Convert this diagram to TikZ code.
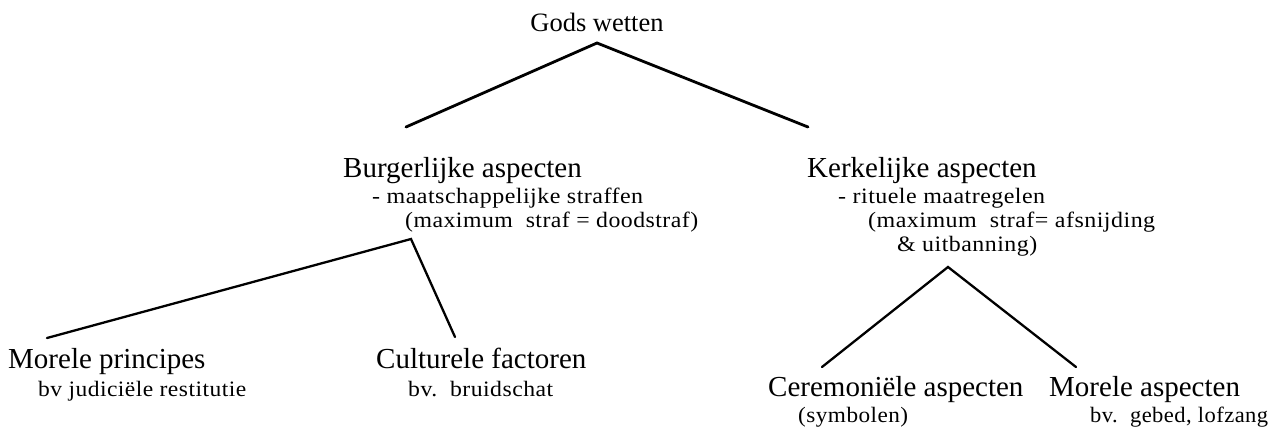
\documentclass[tikz,border=0pt]{standalone}
\usepackage{fontspec}
\usepackage{graphicx}
\setmainfont{Liberation Serif}
\newfontfamily\spacedfont[LetterSpace=2]{Liberation Serif}
\newcommand{\fitw}[2]{\resizebox{#1pt}{\height}{#2}}
\begin{document}
\begin{tikzpicture}[x=1pt,y=-1pt,
  big/.style={anchor=base west,inner sep=0pt,font=\fontsize{29}{34}\selectfont},
  small/.style={anchor=base west,inner sep=0pt,font=\spacedfont\fontsize{22}{26}\selectfont},
  branch/.style={line width=2.8pt,line cap=round},
  twig/.style={line width=2.3pt,line cap=round}]
\useasboundingbox (0,0) rectangle (1278,432);
% texts
\node[big,anchor=base,font=\fontsize{26.5}{32}\selectfont] (gw) at (597,31) {Gods wetten};
\node[big] (ba) at (343,177) {Burgerlijke aspecten};
\node[small] (ba1) at (372,203) {\fitw{271}{- maatschappelijke straffen}};
\node[small] (ba2) at (405,227) {\fitw{293}{(maximum\ \ straf = doodstraf)}};
\node[big] (ka) at (807,177) {Kerkelijke aspecten};
\node[small] (ka1) at (838,203) {\fitw{207}{- rituele maatregelen}};
\node[small] (ka2) at (868,227) {\fitw{287}{(maximum\ \ straf= afsnijding}};
\node[small] (ka3) at (897,251) {\fitw{140}{\& uitbanning)}};
\node[big] (mp) at (8,368) {Morele principes};
\node[small] (mp1) at (38,396) {\fitw{208}{bv judiciële restitutie}};
\node[big] (cf) at (376,368) {Culturele factoren};
\node[small] (cf1) at (408,396) {\fitw{145}{bv.\ \ bruidschat}};
\node[big] (ca) at (768,396) {Ceremoniële aspecten};
\node[small] (ca1) at (798,422) {\fitw{110}{(symbolen)}};
\node[big] (ma) at (1049,396) {Morele aspecten};
\node[small] (ma1) at (1090,422) {\fitw{178}{bv.\ \ gebed, lofzang}};
% connector points
\coordinate (gtop) at (597,43);
\coordinate (gl) at (406,127);
\coordinate (gr) at (808,127);
\coordinate (btop) at (411,239);
\coordinate (bl) at (47,338);
\coordinate (br) at (455,337);
\coordinate (ktop) at (948,267);
\coordinate (kl) at (822,367);
\coordinate (kr) at (1076,367);
\draw[branch] (gl) -- (gtop) -- (gr);
\draw[twig] (bl) -- (btop) -- (br);
\draw[twig] (kl) -- (ktop) -- (kr);
\end{tikzpicture}
\end{document}
